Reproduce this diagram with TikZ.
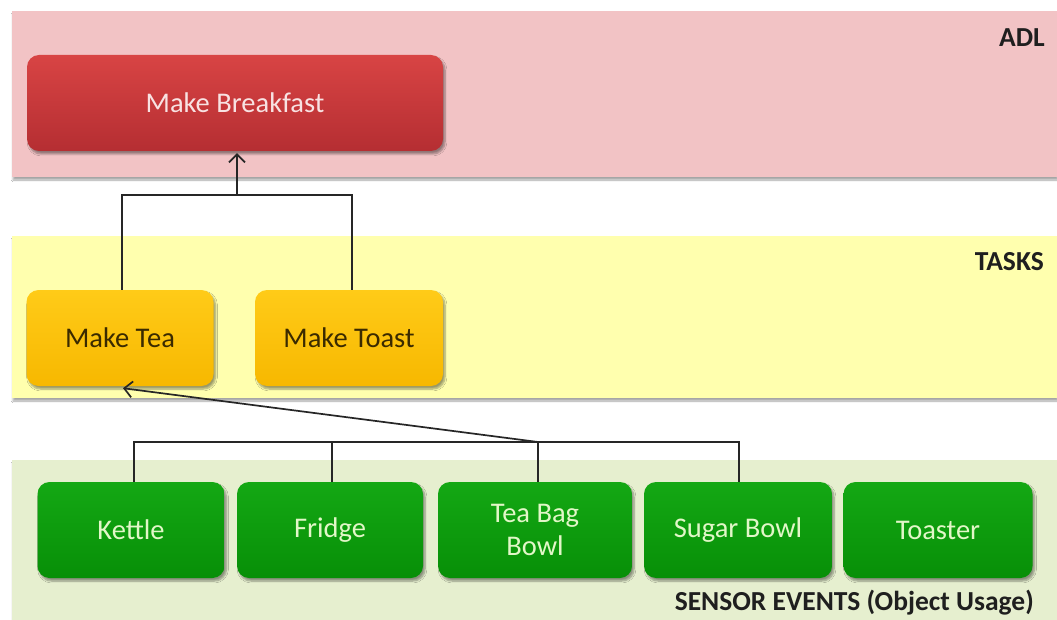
\documentclass[tikz,border=0pt]{standalone}
\usepackage{fontspec}
\setmainfont{Carlito}
\usetikzlibrary{arrows.meta,shadows.blur}

\definecolor{adlband}{HTML}{F2C3C5}
\definecolor{taskband}{HTML}{FFFFAE}
\definecolor{sensband}{HTML}{E6EFCF}
\definecolor{redtop}{HTML}{D84444}
\definecolor{redbot}{HTML}{B52E32}
\definecolor{goldtop}{HTML}{FFCB18}
\definecolor{goldbot}{HTML}{F7B800}
\definecolor{greentop}{HTML}{14A814}
\definecolor{greenbot}{HTML}{078F07}
\definecolor{redtext}{HTML}{F8E2E2}
\definecolor{greentext}{HTML}{E2F7C8}
\definecolor{goldtext}{HTML}{3A2A00}

\tikzset{
  band/.style={draw=none, blur shadow={shadow xshift=1pt, shadow yshift=-3pt, shadow opacity=35, shadow blur steps=6}},
  box/.style={rounded corners=12pt, minimum height=96pt, inner sep=2pt,
    font=\fontsize{28.5}{33}\selectfont, align=center,
    blur shadow={shadow xshift=2pt, shadow yshift=-3pt, shadow opacity=40, shadow blur steps=6}},
  adlbox/.style={box, top color=redtop, bottom color=redbot, text=redtext},
  taskbox/.style={box, top color=goldtop, bottom color=goldbot, text=goldtext},
  sensbox/.style={box, top color=greentop, bottom color=greenbot, text=greentext},
  tier/.style={font=\bfseries\fontsize{27.5}{33}\selectfont, text=black!88, anchor=east, inner sep=0pt},
  link/.style={line width=1.7pt, draw=black!85},
  uplink/.style={link, -{Straight Barb[length=8pt,width=16pt,line width=1.7pt]}}
}

\begin{document}
\begin{tikzpicture}[x=1pt,y=-1pt]
\useasboundingbox (0,0) rectangle (1057,620);
\fill[white] (0,0) rectangle (1057,620);

% tiers
\fill[band, adlband]  (12,11)  rectangle (1057,177);
\fill[band, taskband] (12,236) rectangle (1057,398);
\fill[band, sensband] (12,460) rectangle (1057,620);

\node[tier] (adl)   at (1045,38)  {ADL};
\node[tier] (tasks) at (1044,262) {TASKS};
\node[tier] (sens)  at (1034,603) {SENSOR EVENTS (Object Usage)};

% activity
\node[adlbox, minimum width=416pt] (bf) at (235,103) {Make Breakfast};

% tasks
\node[taskbox, minimum width=187pt] (tea)   at (120,338) {Make Tea};
\node[taskbox, minimum width=188pt] (toast) at (349,338) {Make Toast};

% sensed objects
\node[sensbox, minimum width=187pt] (kettle)  at (131,530) {Kettle};
\node[sensbox, minimum width=186pt] (fridge)  at (330,530) {Fridge};
\node[sensbox, minimum width=194pt] (bag)     at (535,530) {Tea Bag\\Bowl};
\node[sensbox, minimum width=188pt] (sugar)   at (738,530) {Sugar Bowl};
\node[sensbox, minimum width=189pt] (toaster) at (938,530) {Toaster};

% task -> activity
\coordinate (tj) at (237,195);
\draw[link] ([xshift=2pt]tea.north) |- (tj);
\draw[link] ([xshift=3pt]toast.north) |- (tj);
\draw[uplink] (tj) -- ([yshift=-2pt]bf.south -| tj);

% objects -> task
\coordinate (sj) at (538,442);
\draw[link] ([xshift=3pt]kettle.north) |- (sj);
\draw[link] ([xshift=2pt]fridge.north) |- (sj);
\draw[link] ([xshift=1pt]sugar.north) |- (sj);
\draw[link] (bag.north -| sj) -- (sj);
\draw[uplink] (sj) -- ([xshift=3pt,yshift=-2pt]tea.south);
\end{tikzpicture}
\end{document}
